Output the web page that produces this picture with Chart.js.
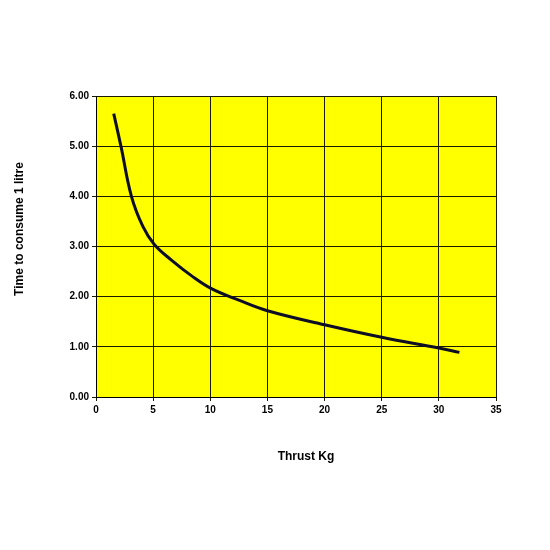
<!DOCTYPE html>
<html>
<head>
<meta charset="utf-8">
<script src="https://cdn.jsdelivr.net/npm/chart.js@4"></script>
<style>
  html, body { margin: 0; padding: 0; background: #ffffff; }
  #wrap { width: 550px; height: 550px; }
</style>
</head>
<body>
<div id="wrap"><canvas id="c" width="550" height="550"></canvas></div>
<script>
const thrustKg = [1.55, 2.2, 3.1, 4.1, 5.1, 6.6, 8.4, 10.1, 12.5, 15, 20, 25, 30, 31.8];
const timeToConsume = [5.65, 4.98, 4.0, 3.4, 3.04, 2.73, 2.41, 2.16, 1.93, 1.72, 1.44, 1.19, 0.975, 0.89];
const xTitle = 'Thrust Kg';
const yTitle = 'Time to consume 1 litre';

const points = thrustKg.map((x, i) => ({ x: x, y: timeToConsume[i] }));
const FONT = '"Liberation Sans", Arial, sans-serif';

const bgPlugin = {
  id: 'bg',
  beforeDraw(chart) {
    const { ctx, chartArea: a } = chart;
    ctx.save();
    ctx.fillStyle = '#ffff00';
    ctx.fillRect(a.left, a.top, a.right - a.left, a.bottom - a.top);
    ctx.restore();
  },
  afterDraw(chart) {
    const { ctx } = chart;
    ctx.save();
    ctx.fillStyle = '#000000';
    ctx.font = 'bold 12px ' + FONT;
    ctx.textAlign = 'center';
    ctx.textBaseline = 'middle';
    ctx.fillText(xTitle, 306, 457);
    ctx.translate(20, 229);
    ctx.rotate(-Math.PI / 2);
    ctx.fillText(yTitle, 0, 0);
    ctx.restore();
  }
};

new Chart(document.getElementById('c'), {
  type: 'line',
  data: {
    datasets: [{
      data: points,
      borderColor: '#0d0d26',
      borderWidth: 3,
      pointRadius: 0,
      fill: false,
      tension: 0.4
    }]
  },
  options: {
    responsive: false,
    animation: false,
    devicePixelRatio: 1,
    layout: { padding: { top: 96, right: 54, left: 0, bottom: 0 } },
    plugins: { legend: { display: false }, tooltip: { enabled: false } },
    scales: {
      x: {
        type: 'linear',
        min: 0, max: 35,
        afterFit(s) { s.height = 153; },
        ticks: { stepSize: 5, padding: 3, color: '#000', font: { family: FONT, size: 10, weight: 'bold' } },
        grid: { color: '#1a1a00', lineWidth: 1, tickLength: 4 },
        border: { color: '#000', width: 1 }
      },
      y: {
        min: 0, max: 6,
        afterFit(s) { s.width = 96; },
        ticks: { stepSize: 1, padding: 3, color: '#000', font: { family: FONT, size: 10, weight: 'bold' },
                 callback: v => Number(v).toFixed(2) },
        grid: { color: '#1a1a00', lineWidth: 1, tickLength: 4 },
        border: { color: '#000', width: 1 }
      }
    }
  },
  plugins: [bgPlugin]
});
</script>
</body>
</html>
